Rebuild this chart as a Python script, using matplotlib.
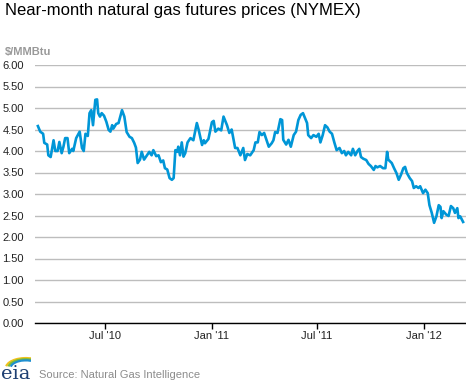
# Near-month natural gas futures prices (NYMEX), EIA style chart

import matplotlib
matplotlib.use("Agg")
import matplotlib.pyplot as plt
import pandas as pd
from matplotlib.patches import Arc

# ------------------------------------------------------------
# Data
# ------------------------------------------------------------

dates = [
    "2010-03-07", "2010-03-11", "2010-03-16", "2010-03-18", "2010-03-23", "2010-03-25",
    "2010-03-29", "2010-04-03", "2010-04-06", "2010-04-10", "2010-04-13", "2010-04-17",
    "2010-04-20", "2010-04-23", "2010-04-27", "2010-04-30", "2010-05-05", "2010-05-07",
    "2010-05-12", "2010-05-18", "2010-05-22", "2010-05-25", "2010-05-28", "2010-06-01",
    "2010-06-04", "2010-06-07", "2010-06-10", "2010-06-14", "2010-06-17", "2010-06-19",
    "2010-06-22", "2010-06-25", "2010-06-29", "2010-07-03", "2010-07-07", "2010-07-10",
    "2010-07-13", "2010-07-15", "2010-07-20", "2010-07-24", "2010-07-30", "2010-08-03",
    "2010-08-07", "2010-08-12", "2010-08-16", "2010-08-20", "2010-08-23", "2010-08-26",
    "2010-08-30", "2010-09-02", "2010-09-06", "2010-09-11", "2010-09-15", "2010-09-19",
    "2010-09-22", "2010-09-27", "2010-10-01", "2010-10-05", "2010-10-09", "2010-10-12",
    "2010-10-16", "2010-10-20", "2010-10-24", "2010-10-27", "2010-10-30", "2010-11-02",
    "2010-11-04", "2010-11-07", "2010-11-10", "2010-11-13", "2010-11-16", "2010-11-20",
    "2010-11-25", "2010-11-30", "2010-12-06", "2010-12-09", "2010-12-15", "2010-12-18",
    "2010-12-20", "2010-12-26", "2011-01-01", "2011-01-04", "2011-01-07", "2011-01-12",
    "2011-01-17", "2011-01-21", "2011-01-27", "2011-01-31", "2011-02-04", "2011-02-10",
    "2011-02-14", "2011-02-19", "2011-02-24", "2011-02-27", "2011-03-03", "2011-03-08",
    "2011-03-14", "2011-03-17", "2011-03-21", "2011-03-24", "2011-03-28", "2011-04-01",
    "2011-04-05", "2011-04-09", "2011-04-14", "2011-04-17", "2011-04-20", "2011-04-24",
    "2011-04-29", "2011-05-02", "2011-05-04", "2011-05-09", "2011-05-13", "2011-05-17",
    "2011-05-22", "2011-05-26", "2011-05-30", "2011-06-03", "2011-06-07", "2011-06-11",
    "2011-06-14", "2011-06-16", "2011-06-21", "2011-06-25", "2011-06-30", "2011-07-04",
    "2011-07-07", "2011-07-11", "2011-07-15", "2011-07-19", "2011-07-23", "2011-07-27",
    "2011-07-31", "2011-08-04", "2011-08-09", "2011-08-13", "2011-08-17", "2011-08-20",
    "2011-08-24", "2011-08-29", "2011-09-01", "2011-09-05", "2011-09-09", "2011-09-12",
    "2011-09-15", "2011-09-19", "2011-09-24", "2011-09-28", "2011-10-02", "2011-10-07",
    "2011-10-10", "2011-10-13", "2011-10-18", "2011-10-23", "2011-10-27", "2011-10-30",
    "2011-11-01", "2011-11-07", "2011-11-11", "2011-11-15", "2011-11-19", "2011-11-23",
    "2011-11-27", "2011-11-30", "2011-12-03", "2011-12-08", "2011-12-12", "2011-12-15",
    "2011-12-19", "2011-12-23", "2011-12-26", "2011-12-31", "2012-01-04", "2012-01-08",
    "2012-01-11", "2012-01-15", "2012-01-19", "2012-01-23", "2012-01-27", "2012-01-30",
    "2012-02-01", "2012-02-04", "2012-02-09", "2012-02-13", "2012-02-17", "2012-02-21",
    "2012-02-24", "2012-02-28", "2012-03-01", "2012-03-04", "2012-03-09",
]

prices = [
    4.58, 4.45, 4.40, 4.19, 4.15, 3.90,
    3.86, 4.25, 4.00, 4.00, 4.21, 3.95,
    4.10, 4.30, 4.30, 3.95, 4.05, 4.00,
    4.30, 4.45, 4.07, 4.00, 4.40, 4.35,
    4.88, 4.95, 4.60, 5.19, 5.20, 4.88,
    4.80, 4.88, 4.82, 4.68, 4.49, 4.45,
    4.60, 4.52, 4.63, 4.65, 4.95, 4.80,
    4.44, 4.33, 4.30, 4.19, 4.08, 3.72,
    3.80, 3.98, 3.80, 3.90, 3.98, 3.90,
    4.02, 3.88, 3.90, 3.74, 3.78, 3.60,
    3.57, 3.37, 3.33, 3.37, 4.02, 3.98,
    4.10, 3.90, 4.20, 3.87, 3.95, 4.20,
    4.30, 4.25, 4.65, 4.50, 4.14, 4.25,
    4.18, 4.28, 4.67, 4.70, 4.45, 4.52,
    4.48, 4.80, 4.60, 4.42, 4.50, 4.07,
    4.07, 3.90, 4.07, 3.79, 3.93, 3.90,
    4.02, 4.20, 4.20, 4.44, 4.37, 4.42,
    4.26, 4.10, 4.18, 4.25, 4.44, 4.42,
    4.74, 4.72, 4.26, 4.15, 4.26, 4.10,
    4.37, 4.45, 4.72, 4.84, 4.88, 4.75,
    4.65, 4.37, 4.30, 4.37, 4.33, 4.40,
    4.20, 4.37, 4.60, 4.55, 4.45, 4.40,
    4.20, 4.02, 4.07, 3.95, 4.00, 3.90,
    3.98, 3.90, 4.05, 3.90, 4.00, 4.05,
    3.86, 3.82, 3.79, 3.70, 3.65, 3.56,
    3.65, 3.62, 3.65, 3.60, 3.60, 3.98,
    3.80, 3.72, 3.60, 3.49, 3.33, 3.45,
    3.60, 3.63, 3.49, 3.37, 3.30, 3.14,
    3.18, 3.14, 3.18, 3.02, 3.10, 3.02,
    2.74, 2.56, 2.33, 2.48, 2.74, 2.70,
    2.44, 2.60, 2.52, 2.49, 2.72, 2.67,
    2.56, 2.67, 2.44, 2.48, 2.35,
]

tick_dates = ["2010-07-01", "2011-01-01", "2011-07-01", "2012-01-01"]
tick_labels = ["Jul '10", "Jan '11", "Jul '11", "Jan '12"]
y_ticks = [0.0, 0.5, 1.0, 1.5, 2.0, 2.5, 3.0, 3.5, 4.0, 4.5, 5.0, 5.5, 6.0]

# ------------------------------------------------------------
# Plot
# ------------------------------------------------------------

plt.rcParams["font.family"] = ["Liberation Sans", "DejaVu Sans"]

fig = plt.figure(figsize=(4.66, 3.84), dpi=100)
ax = fig.add_axes([35 / 466, 1 - 323 / 384, 1 - 35 / 466, (323 - 65) / 384])

ax.plot(pd.to_datetime(dates), prices, color="#0096d7", linewidth=1.9,
        solid_joinstyle="round", zorder=3)

ax.set_xlim(pd.Timestamp("2010-03-02"), pd.Timestamp("2012-03-14"))
ax.set_ylim(0, 6)

ax.set_yticks(y_ticks)
ax.set_yticklabels([f"{v:.2f}" for v in y_ticks])
ax.set_xticks(pd.to_datetime(tick_dates))
ax.set_xticklabels(tick_labels)

ax.yaxis.grid(True, color="#bdbdbd", linewidth=1.0)
ax.set_axisbelow(True)
for side in ["left", "right", "top"]:
    ax.spines[side].set_visible(False)
ax.spines["bottom"].set_color("black")
ax.spines["bottom"].set_linewidth(1.0)
ax.spines["bottom"].set_zorder(4)

ax.tick_params(axis="y", length=0, pad=8, labelsize=8, colors="#222222")
ax.tick_params(axis="x", length=4, width=1, color="black", pad=2,
               labelsize=8, labelcolor="#222222")

# titles and notes
fig.text(5 / 466, 1 - 11 / 384, "Near-month natural gas futures prices (NYMEX)",
         fontsize=12, color="black", va="center", ha="left")
fig.text(5 / 466, 1 - 52 / 384, "$/MMBtu", fontsize=8, color="#999999",
         fontweight="bold", va="center", ha="left")
fig.text(39 / 466, 1 - 375 / 384, "Source: Natural Gas Intelligence",
         fontsize=8, color="#8c8c8c", va="center", ha="left")

# small eia logo
fig.text(1 / 466, 1 - 374 / 384, "eia", fontsize=14, color="#1d3f72",
         family="DejaVu Serif", va="center", ha="left")
logo_ax = fig.add_axes([5 / 466, 1 - 368 / 384, 26 / 466, 13 / 384])
logo_ax.set_xlim(0, 1)
logo_ax.set_ylim(0, 1)
logo_ax.axis("off")
for w, col in [(1.7, "#f2c21b"), (1.5, "#7cbb3a"), (1.3, "#1f8fd0")]:
    logo_ax.add_patch(Arc((0.8, 0.0), w * 0.9, w * 0.9, theta1=70, theta2=170,
                          color=col, linewidth=1.6))

fig.savefig("out.png", dpi=100)
print("Chart saved as: out.png")
